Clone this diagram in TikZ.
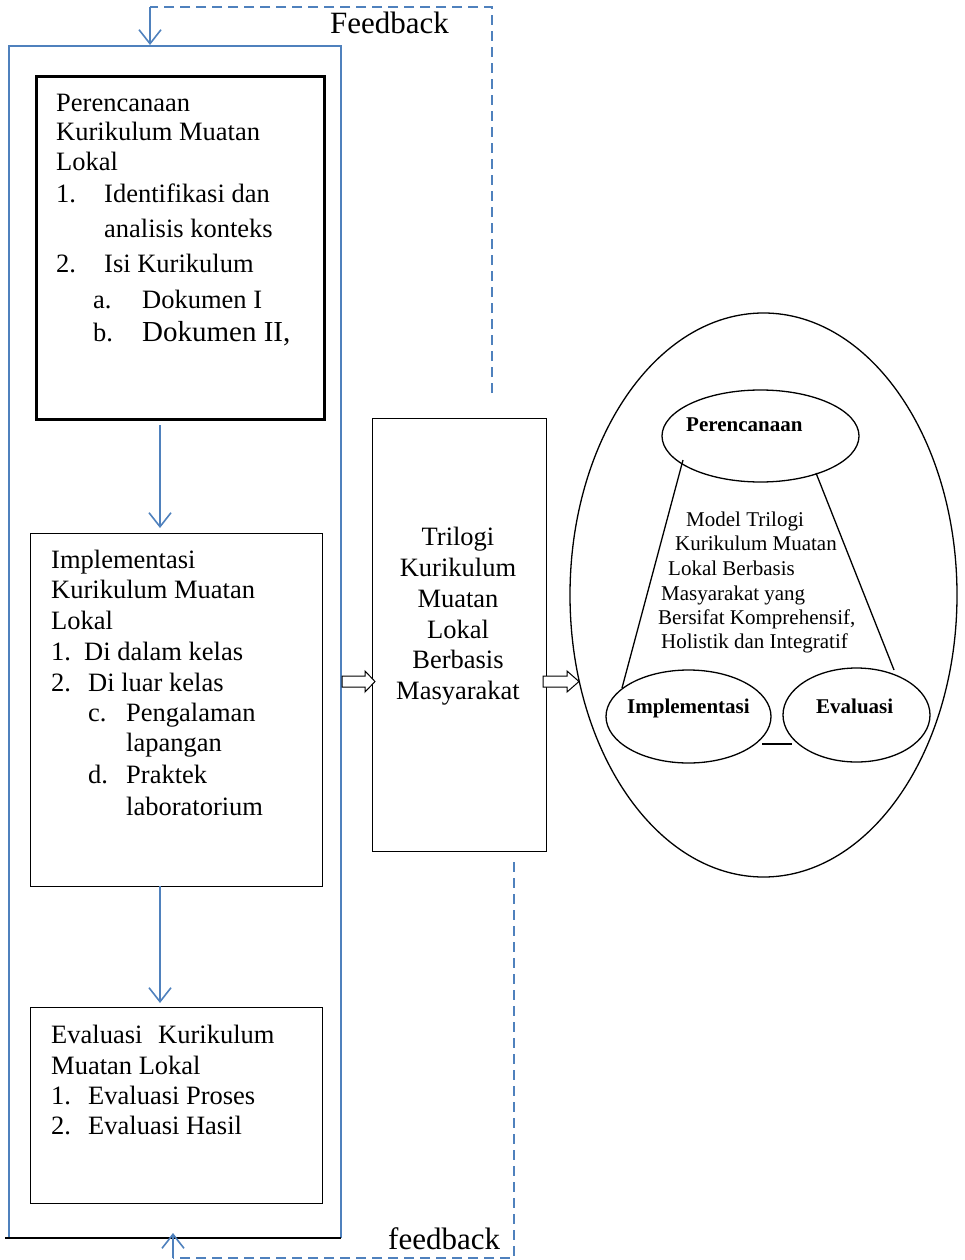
\documentclass[tikz,border=0pt]{standalone}
\usepackage{fontspec}
\setmainfont{Liberation Serif}
\usetikzlibrary{shapes.geometric,arrows.meta}
\definecolor{fbblue}{RGB}{79,129,189}
\begin{document}
\begin{tikzpicture}[x=1pt,y=-1pt,
  txt/.style={inner sep=0pt, anchor=base west, font=\fontsize{26.5}{31}\selectfont},
  mid/.style={inner sep=0pt, anchor=base, font=\fontsize{26.5}{31}\selectfont},
  small/.style={inner sep=0pt, anchor=base west, font=\fontsize{21}{24}\selectfont},
  lbl/.style={inner sep=0pt, anchor=base west, font=\fontsize{21}{24}\selectfont\bfseries},
  fbtxt/.style={inner sep=0pt, anchor=base west, font=\fontsize{31}{36}\selectfont},
  boxx/.style={draw=black, line width=1pt, inner sep=0pt, anchor=north west},
  ell/.style={ellipse, draw=black, line width=1.3pt, inner sep=0pt},
  flow/.style={draw=fbblue, line width=1.6pt, -{Straight Barb[length=14pt,width=22pt,line width=1.6pt]}},
  fb/.style={draw=fbblue, line width=2pt, dash pattern=on 10pt off 6pt},
  hollow/.style={draw=black, line width=1pt, fill=white, line join=miter}]
\useasboundingbox (0,0) rectangle (965,1260);

% outer blue frame
\coordinate (obl) at (9,1238);
\coordinate (otl) at (9,46);
\coordinate (otr) at (341,46);
\coordinate (obr) at (341,1238);
\coordinate (oblk) at (5,1238);
\draw[fbblue, line width=1.5pt] (obl) -- (otl) -- (otr) -- (obr);
\draw[black, line width=1.5pt] (oblk) -- (obr);

% boxes
\node[boxx, line width=2.6pt, minimum width=288pt, minimum height=343pt] (plan) at (35,75) {};
\node[boxx, minimum width=292pt, minimum height=353pt] (impl) at (30,533) {};
\node[boxx, minimum width=292pt, minimum height=196pt] (eval) at (30,1007) {};
\node[boxx, minimum width=174pt, minimum height=433pt] (tri) at (372,418) {};

% plan text
\node[txt] (p1) at (56,112) {Perencanaan};
\node[txt] (p2) at (56,141) {Kurikulum Muatan};
\node[txt] (p3) at (56,171) {Lokal};
\node[txt] (p4n) at (56,203) {1.};
\node[txt] (p4) at (104,203) {Identifikasi dan};
\node[txt] (p5) at (104,237) {analisis konteks};
\node[txt] (p6n) at (56,272) {2.};
\node[txt] (p6) at (104,272) {Isi Kurikulum};
\node[txt] (p7n) at (93,308) {a.};
\node[txt] (p7) at (142,308) {Dokumen I};
\node[txt] (p8n) at (93,341) {b.};
\node[txt, font=\fontsize{29}{33}\selectfont] (p8) at (142,341) {Dokumen II,};

% implementation text
\node[txt] (i1) at (51,568) {Implementasi};
\node[txt] (i2) at (51,598) {Kurikulum Muatan};
\node[txt] (i3) at (51,629) {Lokal};
\node[txt] (i4n) at (51,660) {1.};
\node[txt] (i4) at (84,660) {Di dalam kelas};
\node[txt] (i5n) at (51,691) {2.};
\node[txt] (i5) at (88,691) {Di luar kelas};
\node[txt] (i6n) at (88,721) {c.};
\node[txt] (i6) at (126,721) {Pengalaman};
\node[txt] (i7) at (126,751) {lapangan};
\node[txt] (i8n) at (88,783) {d.};
\node[txt] (i8) at (126,783) {Praktek};
\node[txt] (i9) at (126,815) {laboratorium};

% evaluation text
\node[txt] (e1a) at (51,1043) {Evaluasi};
\node[txt] (e1b) at (158,1043) {Kurikulum};
\node[txt] (e2) at (51,1074) {Muatan Lokal};
\node[txt] (e3n) at (51,1104) {1.};
\node[txt] (e3) at (88,1104) {Evaluasi Proses};
\node[txt] (e4n) at (51,1134) {2.};
\node[txt] (e4) at (88,1134) {Evaluasi Hasil};

% middle text
\node[mid] (t1) at (458,545) {Trilogi};
\node[mid] (t2) at (458,576) {Kurikulum};
\node[mid] (t3) at (458,607) {Muatan};
\node[mid] (t4) at (458,638) {Lokal};
\node[mid] (t5) at (458,668) {Berbasis};
\node[mid] (t6) at (458,699) {Masyarakat};

% flow arrows
\coordinate (a1s) at (160,425);
\coordinate (a1e) at (160,528);
\coordinate (a2s) at (160,886);
\coordinate (a2e) at (160,1003);
\draw[flow] (a1s) -- (a1e);
\draw[flow] (a2s) -- (a2e);

% feedback loops
\coordinate (f1a) at (492,393);
\coordinate (f1b) at (492,7);
\coordinate (f1c) at (150,7);
\coordinate (f1d) at (150,45);
\draw[fb] (f1a) -- (f1b) -- (f1c);
\draw[flow, line width=1.6pt] (f1c) -- (f1d);
\node[fbtxt] (fbt) at (330,34) {Feedback};

\coordinate (f2a) at (514,862);
\coordinate (f2b) at (514,1258);
\coordinate (f2c) at (173,1258);
\coordinate (f2d) at (173,1233);
\draw[fb] (f2a) -- (f2b) -- (f2c);
\draw[flow, line width=1.6pt] (f2c) -- (f2d);
\node[fbtxt] (fbb) at (388,1249) {feedback};

% hollow arrows
\draw[hollow] (342,676) -- (365,676) -- (365,671) -- (375,681.5) -- (365,692) -- (365,687) -- (342,687) -- cycle;
\draw[hollow] (543,676) -- (567,676) -- (567,671) -- (579,681.5) -- (567,692) -- (567,687) -- (543,687) -- cycle;

% right model
\node[ell, minimum width=387pt, minimum height=564pt] (big) at (763.5,595) {};
\node[ell, minimum width=197pt, minimum height=92pt] (eper) at (760.5,436) {};
\node[ell, minimum width=165pt, minimum height=93pt] (eimp) at (688.5,716.5) {};
\node[ell, minimum width=147pt, minimum height=94pt] (eev) at (856.5,715) {};
\node[lbl] (lper) at (686,431) {Perencanaan};
\node[lbl] (limp) at (627,713) {Implementasi};
\node[lbl] (lev) at (816,713) {Evaluasi};

\coordinate (l1a) at (683,460);
\coordinate (l1b) at (622,688);
\coordinate (l2a) at (816,473);
\coordinate (l2b) at (894,670);
\coordinate (l3a) at (762,744);
\coordinate (l3b) at (792,744);
\draw[black, line width=1.3pt] (l1a) -- (l1b);
\draw[black, line width=1.3pt] (l2a) -- (l2b);
\draw[black, line width=1.3pt] (l3a) -- (l3b);

\node[small] (m1) at (686,526) {Model Trilogi};
\node[small] (m2) at (675,550) {Kurikulum Muatan};
\node[small] (m3) at (668,575) {Lokal Berbasis};
\node[small] (m4) at (661,600) {Masyarakat yang};
\node[small] (m5) at (658,624) {Bersifat Komprehensif,};
\node[small] (m6) at (661,648) {Holistik dan Integratif};
\end{tikzpicture}
\end{document}
